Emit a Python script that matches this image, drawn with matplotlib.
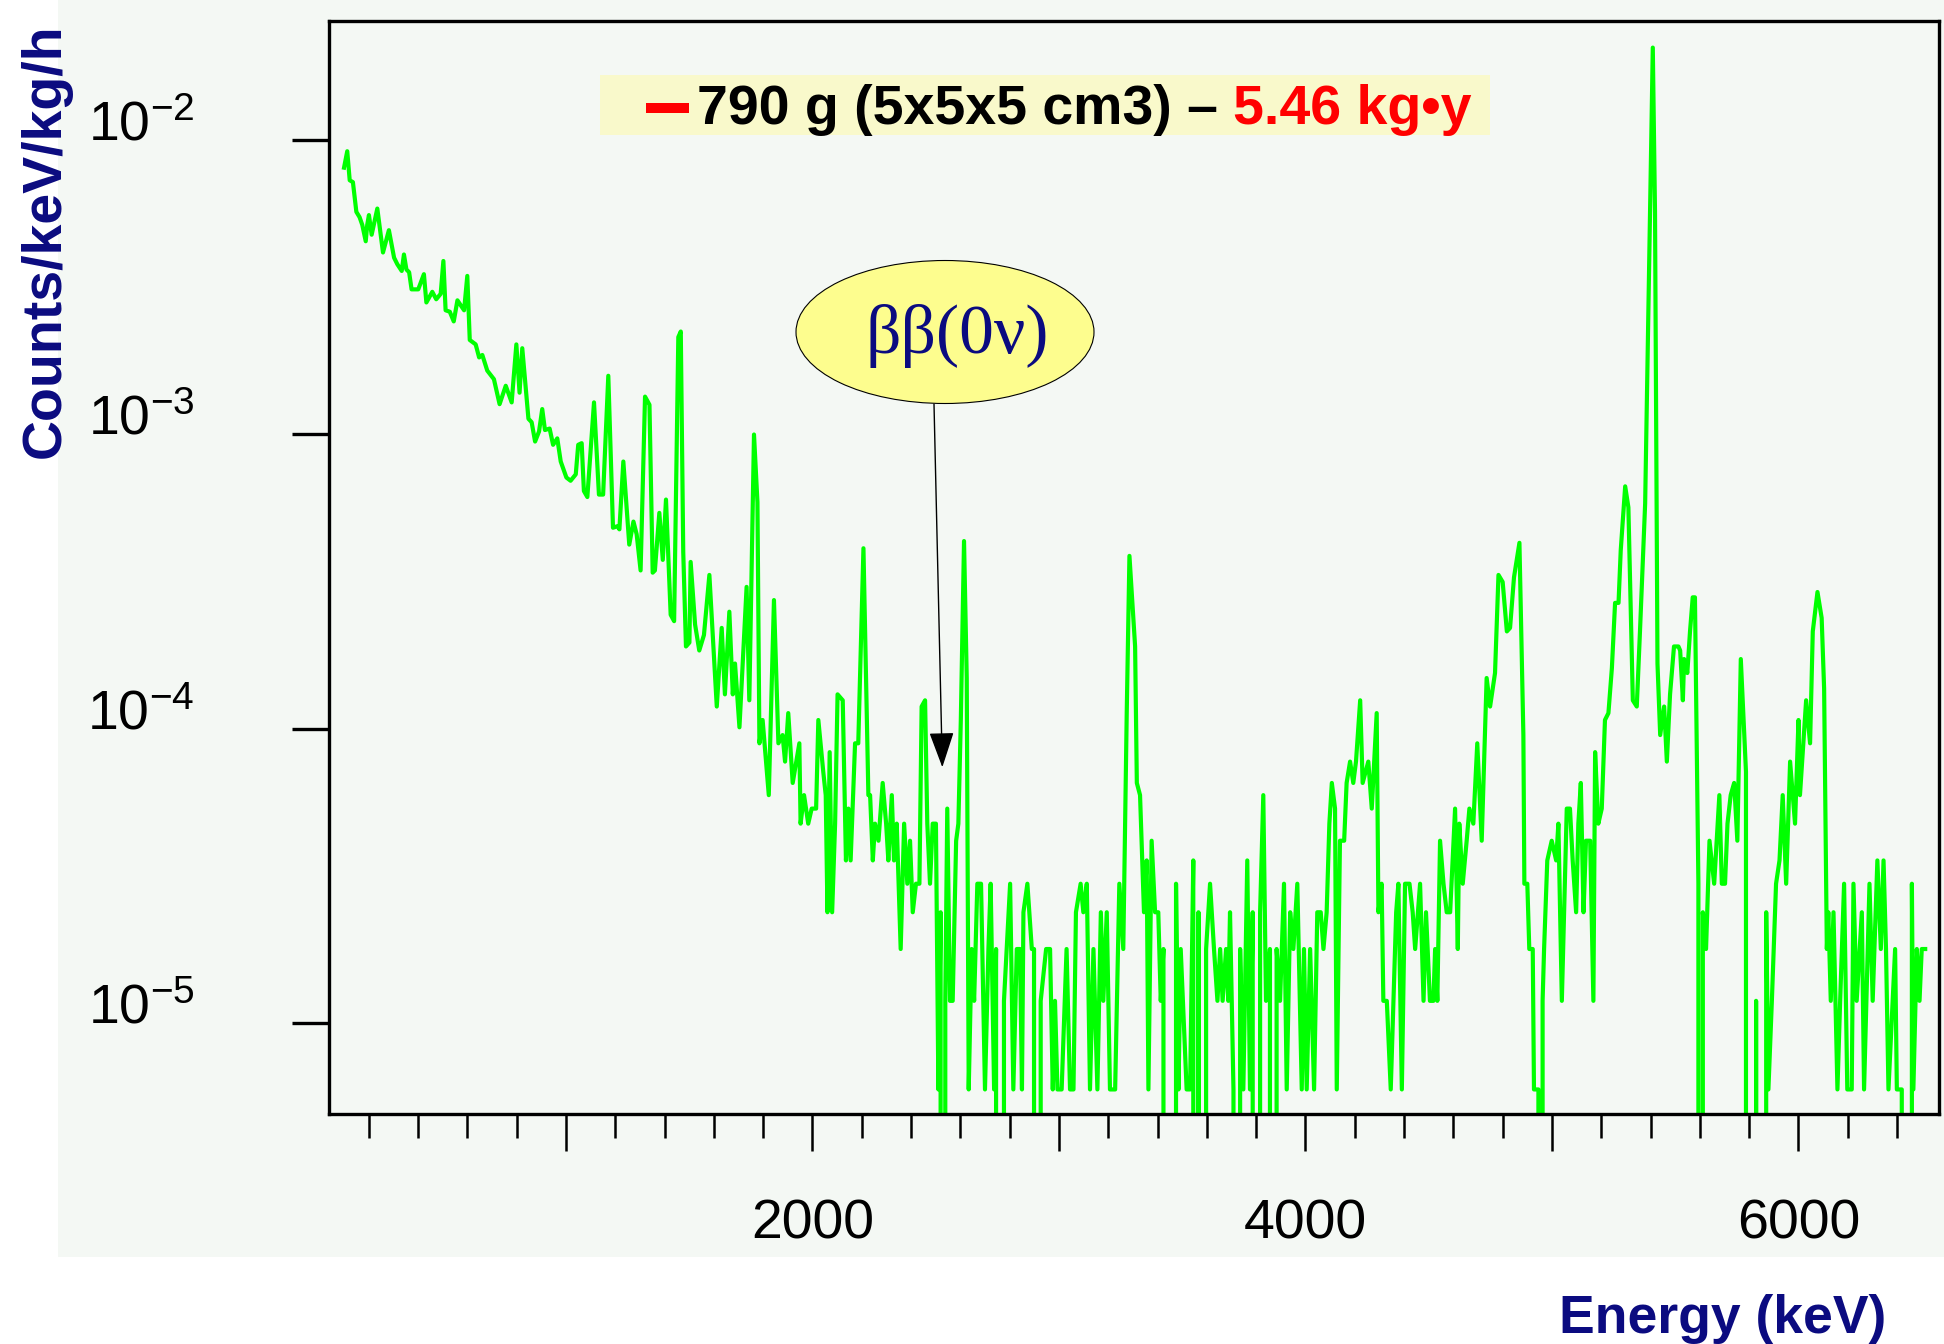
import matplotlib
matplotlib.use('Agg')
import matplotlib.pyplot as plt
from matplotlib.patches import Rectangle, Ellipse
from matplotlib.lines import Line2D
from matplotlib.ticker import MultipleLocator, NullLocator
import numpy as np

# spectrum: bin energy (keV) and counts in the bin
energy_kev = [
    100, 113, 123, 136, 150, 163, 174, 188, 194, 201, 212, 235, 258, 282, 303, 316, 334, 343, 353, 364,
    374, 401, 424, 434, 458, 474, 492, 503, 512, 529, 545, 560, 587, 600, 610, 634, 648, 661, 681, 708,
    731, 756, 780, 799, 812, 823, 848, 861, 875, 891, 904, 915, 934, 948, 965, 979, 1002, 1019, 1040, 1050,
    1064, 1073, 1087, 1114, 1134, 1151, 1172, 1191, 1209,
    1217, 1233, 1257, 1274, 1287, 1303, 1321, 1339, 1352, 1361, 1379, 1393, 1406, 1425, 1439, 1456, 1466,
    1476, 1487, 1501, 1506, 1524, 1541, 1560, 1582, 1612, 1632, 1645, 1663, 1677, 1686, 1704, 1733, 1744,
    1763, 1777, 1785, 1798, 1823, 1844, 1862, 1879, 1889, 1902, 1920, 1947, 1952, 1966, 1983, 1997, 2015,
    2024, 2044, 2054, 2061, 2070, 2080, 2092, 2102, 2123, 2136, 2146, 2155, 2173, 2186, 2207, 2227,
    2234, 2245, 2254, 2268, 2285, 2299, 2308, 2322, 2331, 2342, 2358, 2372, 2385, 2396, 2407, 2420, 2434,
    2443, 2457, 2466, 2477, 2488, 2501, 2511, 2520, 2531, 2539, 2547, 2558, 2569, 2583, 2592, 2602, 2615,
    2626, 2634, 2646, 2656, 2669, 2684, 2700, 2714, 2723, 2737, 2745, 2758, 2777, 2802, 2815, 2829, 2842,
    2850, 2856, 2872, 2890, 2899, 2907, 2926, 2948, 2964, 2975, 2984, 2994, 3011, 3031, 3045, 3059, 3069,
    3088, 3099, 3113, 3126, 3140, 3156, 3170, 3180, 3194, 3207, 3228, 3245, 3261, 3275, 3286, 3309, 3316,
    3329, 3345, 3356, 3363, 3376, 3390,
    3403, 3413, 3424, 3440, 3451, 3475, 3485, 3494, 3518, 3532, 3545, 3556, 3566, 3579, 3597, 3613, 3629,
    3643, 3654, 3664, 3678, 3687, 3694, 3708, 3724, 3735, 3748, 3764, 3775, 3786, 3800, 3816, 3829, 3840,
    3856, 3870, 3883, 3897, 3913, 3924, 3938, 3951, 3967, 3985, 3994, 4005, 4019, 4035, 4048, 4062, 4073,
    4086, 4097, 4107, 4120, 4127, 4140, 4157, 4167, 4181, 4194, 4205, 4222, 4232, 4255, 4269, 4289, 4296,
    4309, 4316, 4330, 4346, 4368, 4377, 4391, 4404, 4422, 4435, 4445, 4465, 4479, 4489, 4505,
    4519, 4526, 4535, 4546, 4560, 4573, 4587, 4607, 4618, 4624, 4638, 4654, 4665, 4681, 4697, 4715, 4735,
    4749, 4769, 4783, 4800, 4817, 4830, 4846, 4868, 4884, 4888, 4900, 4908, 4922, 4927, 4945, 4954, 4962,
    4968, 4981, 4999, 5017, 5026, 5040, 5060, 5073, 5084, 5098, 5107, 5117, 5128, 5138, 5155, 5168, 5175,
    5188, 5202, 5215, 5229, 5243, 5256, 5270, 5279, 5297, 5310, 5328, 5344, 5357, 5378, 5391, 5409, 5418,
    5428, 5439, 5455, 5466, 5479, 5495, 5513,
    5520, 5531, 5536, 5549, 5560, 5571, 5580, 5594, 5604, 5612, 5625, 5639, 5658, 5679, 5689, 5702, 5712,
    5725, 5739, 5752, 5766, 5787, 5804, 5820, 5828, 5842, 5855, 5869, 5878, 5892, 5909, 5923, 5936, 5950,
    5966, 5986, 6000, 6006, 6031, 6047, 6058, 6077, 6094, 6104, 6115, 6121, 6131, 6142, 6158, 6169, 6185,
    6198, 6216, 6223, 6236, 6257, 6266, 6288, 6301, 6320, 6334, 6345, 6355, 6365, 6392, 6399, 6419, 6426,
    6439, 6460, 6466, 6480, 6491, 6500, 6514,
]
counts = [
    1355, 1541, 1228, 1210, 959, 920, 866, 762, 866, 935, 802, 984, 698, 831, 670, 637, 604, 687, 611, 598,
    523, 523, 589, 472, 513, 484, 505, 653, 444, 439, 407, 480, 444, 581, 352, 340, 307, 313, 277, 259,
    213, 246, 216, 340, 233, 330, 190, 185, 159, 172, 205, 174, 176, 155, 163, 136, 120, 117, 123, 155,
    157, 108, 103, 216, 105, 105, 266, 81, 82,
    80, 136, 71, 85, 77, 58, 226, 212, 57, 58, 91, 63, 101, 41, 39, 360, 376,
    67, 32, 33, 62, 38, 31, 35, 56, 20, 37, 22, 42, 22, 28, 17, 51, 21,
    168, 99, 15, 18, 10, 46, 15, 16, 13, 19, 11, 15, 8, 10, 8, 9, 9,
    18, 12, 10, 4, 14, 4, 8, 22, 21, 6, 9, 6, 15, 15, 69, 10,
    10, 6, 8, 7, 11, 8, 6, 10, 6, 8, 3, 8, 5, 7, 4, 5, 5,
    20, 21, 8, 5, 8, 8, 1, 4, 0, 2, 9, 2, 2, 7, 8, 18, 73,
    25, 1, 3, 2, 5, 5, 1, 3, 5, 1, 3, 0, 2, 5, 1, 3, 3,
    1, 4, 5, 3, 3, 0, 2, 3, 3, 1, 2, 1, 1, 3, 1, 1, 4,
    5, 4, 5, 1, 3, 1, 4, 2, 4, 1, 1, 5, 3, 19, 65, 32, 11,
    10, 4, 6, 1, 7, 4,
    4, 2, 3, 0, 0, 5, 1, 3, 1, 1, 6, 0, 4, 0, 3, 5, 3,
    2, 3, 2, 3, 2, 4, 1, 0, 3, 1, 6, 1, 4, 0, 4, 10, 2,
    3, 0, 3, 2, 5, 1, 4, 3, 5, 1, 3, 1, 3, 1, 4, 4, 3,
    4, 8, 11, 9, 1, 7, 7, 11, 13, 11, 13, 21, 11, 13, 9, 19, 4,
    5, 2, 2, 1, 4, 5, 1, 5, 5, 4, 3, 5, 2, 4, 2,
    2, 3, 2, 7, 5, 4, 4, 9, 3, 8, 5, 7, 9, 8, 15, 7, 25,
    20, 26, 56, 53, 36, 37, 55, 72, 16, 5, 5, 3, 3, 1, 1, 0, 2,
    3, 6, 7, 6, 8, 2, 9, 9, 6, 4, 8, 11, 4, 7, 7, 2, 14,
    8, 9, 18, 19, 27, 45, 45, 68, 112, 95, 21, 20, 36, 98, 443, 3467, 955,
    28, 16, 20, 13, 22, 32, 32,
    31, 21, 29, 26, 36, 47, 47, 5, 0, 4, 3, 7, 5, 10, 5, 5, 8,
    10, 11, 7, 29, 12, 0, 0, 2, 0, 0, 4, 1, 2, 5, 6, 10, 5,
    13, 8, 18, 10, 21, 15, 36, 49, 40, 23, 3, 4, 2, 4, 1, 2, 5,
    1, 1, 5, 2, 4, 1, 5, 2, 6, 3, 6, 3, 1, 3, 1, 1, 0,
    0, 5, 1, 3, 2, 3, 3,
]
assert len(energy_kev) == len(counts)
rate_per_count = 5.95e-6   # counts/keV/kg/h for a single count in a bin

x_major = [1000, 2000, 3000, 4000, 5000, 6000]
x_major_labels = ['', '2000', '', '4000', '', '6000']
y_major = [1e-5, 1e-4, 1e-3, 1e-2]
y_major_labels = [r'$\mathregular{10^{-5}}$', r'$\mathregular{10^{-4}}$',
                  r'$\mathregular{10^{-3}}$', r'$\mathregular{10^{-2}}$']

legend_black = '790 g (5x5x5 cm3) \u2013 '
legend_red = '5.46 kg\u2022y'
peak_label = '\u03b2\u03b2(0\u03bd)'
q_value_kev = 2527
arrow_tip_rate = 7.4e-5

navy = '#0b0b80'
panel_col = '#f4f8f4'

plt.rcParams['font.family'] = ['Liberation Sans', 'DejaVu Sans']

W, H = 1944, 1344
fig = plt.figure(figsize=(W / 100, H / 100), dpi=100)
fig.patch.set_facecolor('white')


def fx(px):
    return px / W


def fy(py):
    return 1 - py / H


# light panel behind the plot
fig.add_artist(Rectangle((fx(58), fy(1257)), (1944 - 58) / W, 1257 / H,
                         transform=fig.transFigure, facecolor=panel_col,
                         edgecolor='none', zorder=-1))

ax = fig.add_axes([fx(329), fy(1114), (1939 - 329) / W, (1114 - 21) / H])
ax.set_facecolor(panel_col)
ax.set_yscale('log', nonpositive='clip')

rate = np.array(counts) * rate_per_count
ax.plot(energy_kev, rate, color='#00ff00', lw=3.0)

ax.set_xlim(39, 6570)
ax.set_ylim(4.91e-6, 0.0254)

ax.set_xticks(x_major, labels=x_major_labels)
ax.xaxis.set_minor_locator(MultipleLocator(200))
ax.set_yticks(y_major, labels=y_major_labels)
ax.yaxis.set_minor_locator(NullLocator())
ax.tick_params(axis='x', which='major', direction='out', length=26.6, width=1.8,
               pad=34, labelsize=40)
ax.tick_params(axis='x', which='minor', direction='out', length=17.3, width=1.8)
ax.tick_params(axis='y', which='major', direction='out', length=26.6, width=2.4,
               pad=70, labelsize=40)
for lab in ax.get_yticklabels():
    lab.set_verticalalignment('baseline')
for s in ax.spines.values():
    s.set_linewidth(2.4)

# legend box
fig.add_artist(Rectangle((fx(600), fy(135)), (1490 - 600) / W, 60 / H,
                         transform=fig.transFigure, facecolor='#f9f9cb',
                         edgecolor='none', zorder=2))
fig.add_artist(Line2D([fx(646), fx(689)], [fy(108), fy(108)], transform=fig.transFigure,
                      color='red', lw=7.2, solid_capstyle='butt', zorder=3))
t1 = fig.text(fx(697), fy(124), legend_black, fontsize=40, fontweight='bold',
              color='black', va='baseline', zorder=3)
fig.canvas.draw()
bb = t1.get_window_extent()
fig.text(bb.x1 / W, fy(124), legend_red, fontsize=40, fontweight='bold',
         color='red', va='baseline', zorder=3)

# bubble and arrow
fig.add_artist(Ellipse((fx(945), fy(332)), 298 / W, 143 / H, transform=fig.transFigure,
                       facecolor='#fdfd8e', edgecolor='black', lw=0.8, zorder=2))
fig.text(fx(957), fy(336), peak_label, family=['Liberation Serif', 'DejaVu Serif'],
         fontsize=50, color=navy, ha='center', va='center', zorder=3)
ax.annotate('', xy=(q_value_kev, arrow_tip_rate), xycoords='data',
            xytext=(934, H - 404), textcoords='figure pixels',
            arrowprops=dict(arrowstyle='-|>,head_length=0.8,head_width=0.28',
                            color='black', lw=1.0, shrinkA=0, shrinkB=0,
                            mutation_scale=28))

# axis titles
fig.text(fx(46), fy(241), 'Counts/keV/kg/h', rotation=90, ha='center', va='center',
         fontsize=40, fontweight='bold', color=navy)
fig.text(fx(1886), fy(1333), 'Energy (keV)', ha='right', va='baseline',
         fontsize=38.5, fontweight='bold', color=navy)

fig.savefig('out.png', dpi=100)
